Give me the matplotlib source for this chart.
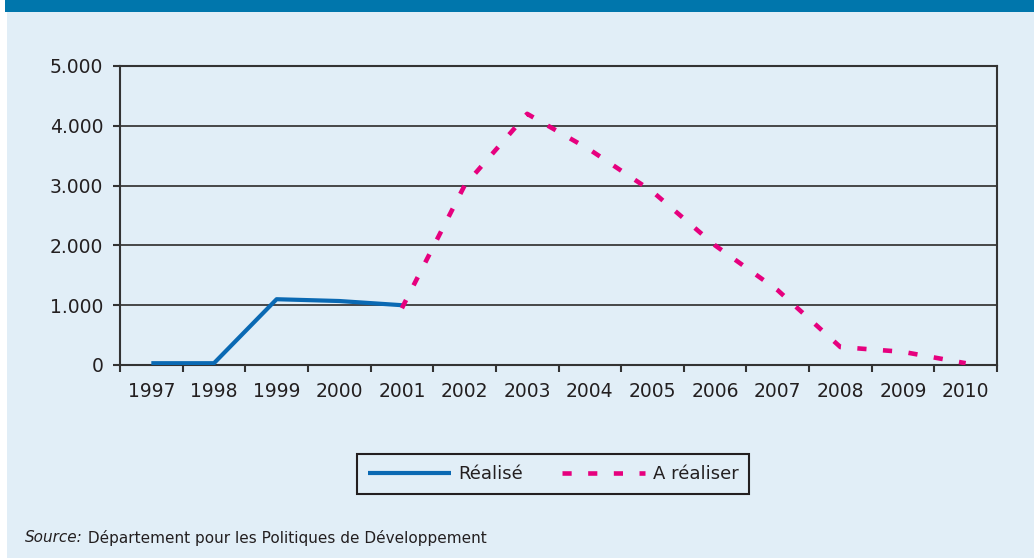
import matplotlib
matplotlib.use("Agg")
import matplotlib.pyplot as plt
from matplotlib.patches import Rectangle
from matplotlib.ticker import FuncFormatter

plt.rcParams['font.family'] = ['DejaVu Sans']

# data
years = [str(y) for y in range(1997, 2011)]
realise_years = years[:5]          # 1997-2001
realise = [30, 30, 1100, 1070, 1000]
a_realiser_years = years[4:]       # 2001-2010
a_realiser = [950, 3000, 4200, 3600, 2900, 2000, 1250, 300, 220, 30]
yticks = [0, 1000, 2000, 3000, 4000, 5000]

bg = '#e1eef7'
blue = '#0a69b3'
pink = '#e6007e'
txt = '#231f20'

W, H = 1034, 558
fig = plt.figure(figsize=(W / 100, H / 100), dpi=100, facecolor='white')
fig.patches.append(Rectangle((7 / W, 0), 1, 1, transform=fig.transFigure,
                             facecolor=bg, edgecolor='none', zorder=-10))
fig.patches.append(Rectangle((5 / W, 1 - 12 / H), 1, 12 / H, transform=fig.transFigure,
                             facecolor='#0076ac', edgecolor='none', zorder=-9))

ax = fig.add_axes([120 / W, 1 - 365 / H, (997 - 120) / W, (365 - 66) / H])
ax.set_facecolor('none')

idx = {y: i for i, y in enumerate(years)}
ax.plot([idx[y] for y in realise_years], realise, color=blue, lw=3.0,
        solid_capstyle='butt', label='Réalisé', zorder=3)
ax.plot([idx[y] for y in a_realiser_years], a_realiser, color=pink, lw=3.3,
        dashes=(2.0, 3.6), dash_capstyle='butt', label='A réaliser', zorder=3)

ax.set_xlim(-0.5, len(years) - 0.5)
ax.set_ylim(0, 5000)
ax.set_yticks(yticks)
ax.yaxis.set_major_formatter(FuncFormatter(lambda v, p: f'{int(v):,}'.replace(',', '.')))
ax.grid(axis='y', color='#3a3a3a', lw=1.3)
ax.set_axisbelow(True)

ax.set_xticks(range(len(years)))
ax.set_xticklabels(years)
ax.set_xticks([i - 0.5 for i in range(len(years) + 1)], minor=True)
ax.tick_params(axis='x', which='major', length=0, pad=12, labelsize=13.5, labelcolor=txt)
ax.tick_params(axis='x', which='minor', length=5, width=1.5, color='#333333', direction='out')
ax.tick_params(axis='y', length=5, width=1.5, color='#333333', pad=7, labelsize=13.5,
               labelcolor=txt)
for s in ax.spines.values():
    s.set_color('#333333')
    s.set_linewidth(1.5)

leg = fig.legend(loc='center', bbox_to_anchor=(553 / W, 1 - 474 / H), ncol=2,
                 frameon=True, fancybox=False, edgecolor='#231f20', facecolor=bg,
                 framealpha=1, fontsize=13, handlelength=4.6, handletextpad=0.4,
                 columnspacing=2.2, borderpad=0.6, labelcolor=txt)
leg.get_frame().set_linewidth(1.5)

t1 = fig.text(25 / W, 1 - 538 / H, 'Source:', fontsize=11, style='italic',
              color=txt, va='center')
ax.annotate(' Département pour les Politiques de Développement', xy=(1, 0.5),
            xycoords=t1, va='center', fontsize=11, color=txt, annotation_clip=False)

fig.savefig('out.png', dpi=100, facecolor=fig.get_facecolor())
